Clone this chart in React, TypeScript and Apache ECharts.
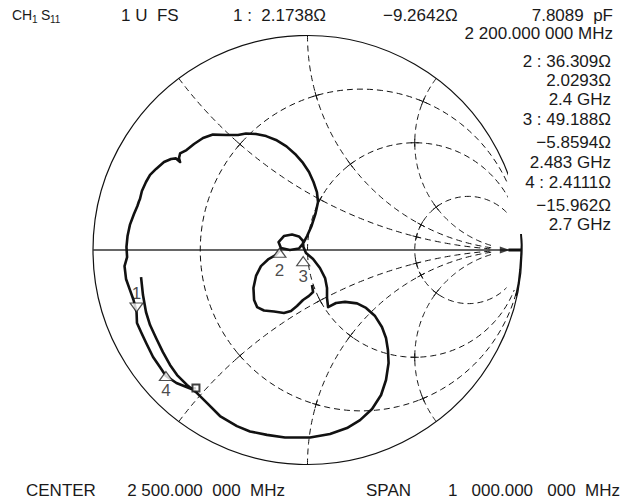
import React, { useEffect, useRef } from "react";
import * as echarts from "echarts";

// Smith chart grid values (normalized resistance / reactance)
const R_CIRCLES = [1 / 3, 1, 3];
const X_ARCS = [0.5, 1, 2, -0.5, -1, -2];

const TRACE_RE = [
  -0.776, -0.767, -0.753, -0.734, -0.706, -0.674, -0.641, -0.608, -0.562, -0.515,
  -0.469, -0.408, -0.329, -0.268, -0.189, -0.105, 0.012, 0.105, 0.184, 0.245,
  0.301, 0.343, 0.366, 0.378, 0.375, 0.366, 0.347, 0.315, 0.273, 0.231,
  0.175, 0.133, 0.096, 0.091, 0.091, 0.082, 0.058, 0.026, -0.007, -0.019,
  -0.021, -0.04, -0.072, -0.11, -0.135, -0.124, -0.082, -0.04, -0.021, -0.002,
  0.019, 0.037, 0.049, 0.044, 0.028, 0.007, -0.021, -0.058, -0.098, -0.147,
  -0.193, -0.24, -0.287, -0.324, -0.375, -0.441, -0.487, -0.529, -0.564, -0.594,
  -0.599, -0.594, -0.613, -0.636, -0.669, -0.706, -0.734, -0.753, -0.772, -0.781,
  -0.786, -0.793, -0.809, -0.828, -0.839, -0.844, -0.841, -0.853, -0.846, -0.828,
  -0.811, -0.797, -0.795, -0.774, -0.751, -0.72, -0.688, -0.66, -0.611, -0.541,
  -0.52,
];
const TRACE_IM = [
  -0.126, -0.21, -0.289, -0.35, -0.41, -0.476, -0.536, -0.583, -0.629, -0.667,
  -0.713, -0.774, -0.821, -0.846, -0.862, -0.874, -0.874, -0.858, -0.83, -0.793,
  -0.741, -0.676, -0.606, -0.527, -0.466, -0.41, -0.359, -0.308, -0.27, -0.249,
  -0.242, -0.247, -0.266, -0.224, -0.177, -0.131, -0.084, -0.042, -0.014, 0.014,
  0.042, 0.063, 0.072, 0.065, 0.037, 0.009, 0.0, 0.007, 0.03, 0.065,
  0.112, 0.168, 0.224, 0.27, 0.317, 0.364, 0.406, 0.448, 0.483, 0.513,
  0.531, 0.541, 0.543, 0.536, 0.536, 0.538, 0.522, 0.494, 0.466, 0.45,
  0.429, 0.41, 0.427, 0.424, 0.41, 0.378, 0.35, 0.317, 0.275, 0.238,
  0.226, 0.205, 0.168, 0.117, 0.065, 0.014, -0.033, -0.075, -0.135, -0.186,
  -0.233, -0.289, -0.34, -0.387, -0.436, -0.499, -0.545, -0.587, -0.62, -0.648,
  -0.643,
];
const LOOP_RE = [-0.124, -0.147, -0.184, -0.217, -0.24, -0.252, -0.249, -0.235, -0.203, -0.156, -0.11, -0.077, -0.049, -0.021, 0.007, 0.026, 0.021];
const LOOP_IM = [0.005, -0.023, -0.044, -0.075, -0.121, -0.177, -0.233, -0.266, -0.282, -0.287, -0.294, -0.284, -0.261, -0.233, -0.214, -0.196, -0.163];
const EDGE_RE = [0.995, 0.998, 0.995, 0.991, 0.984, 0.972];
const EDGE_IM = [0.079, 0.023, -0.037, -0.093, -0.154, -0.214];

// Markers
const MARKER_NAMES = ["1", "2", "3", "4"];
const MARKER_RE = [-0.797, -0.131, -0.02, -0.66];
const MARKER_IM = [-0.289, 0.008, -0.031, -0.567];
const MARKER_DOWN = [true, false, false, false];
const MARKER_LABEL_DY = [-18, 22, 20, 19];
const START_POINT = [-0.52, -0.643];
const REF_ARROW = [0.92, 0];
const REF_LINE_RE = [0.937, 1.0];

// Texts
const HEADER_CH = ["CH", "1", "S", "11"];
const HEADER_MAIN = ["1 U  FS", "1 :  2.1738Ω", "−9.2642Ω"];
const HEADER_MAIN_X = [121, 233, 383];
const HEADER_RIGHT = ["7.8089  pF", "2 200.000 000 MHz"];
const RIGHT_LINES = [
  "2 : 36.309Ω", "2.0293Ω", "2.4 GHz",
  "3 : 49.188Ω", "−5.8594Ω", "2.483 GHz",
  "4 : 2.4111Ω", "−15.962Ω", "2.7 GHz",
];
const RIGHT_Y = [61, 80, 99, 119, 142, 162, 182, 205, 224];
const FOOTER = ["CENTER", "2 500.000  000  MHz", "SPAN", "1   000.000   000  MHz"];

const FONT = "'Liberation Sans', Arial, Helvetica, sans-serif";
const INK = "#1a1a1a";

function pairs(re: number[], im: number[]) {
  return re.map((v, i) => [v, im[i]]);
}

function gridRender(params: any, api: any) {
  const c = (x: number, y: number) => api.coord([x, y]);
  const unit = api.size([1, 1])[0];
  const children: any[] = [];
  const dash = [6, 4];
  const o = c(0, 0);
  const N = 160;
  const GAP_R = 0.19;
  const GAP_X = 0.14;

  children.push({
    type: "circle",
    shape: { cx: o[0], cy: o[1], r: unit },
    style: { stroke: "#111", lineWidth: 1.2, fill: "none" },
  });
  const l = c(-1, 0);
  const rr = c(1, 0);
  children.push({
    type: "line",
    shape: { x1: l[0], y1: l[1], x2: rr[0], y2: rr[1] },
    style: { stroke: "#333", lineWidth: 1.3 },
  });

  R_CIRCLES.forEach((r) => {
    const rho = 1 / (1 + r);
    const cx = r / (1 + r);
    const th0 = 2 * Math.asin(Math.min(1, GAP_R / (2 * rho)));
    const pts: number[][] = [];
    for (let i = 0; i <= N; i++) {
      const th = th0 + ((2 * Math.PI - 2 * th0) * i) / N;
      pts.push(c(cx + rho * Math.cos(th), rho * Math.sin(th)));
    }
    children.push({
      type: "polyline",
      shape: { points: pts },
      style: { stroke: "#111", lineWidth: 1, lineDash: dash, fill: "none" },
    });
  });

  X_ARCS.forEach((x) => {
    const R = 1 / Math.abs(x);
    const cy = 1 / x;
    const px = (x * x - 1) / (x * x + 1);
    const py = (2 * x) / (x * x + 1);
    const phiP = Math.atan2(py - cy, px - 1);
    const phi1 = Math.atan2(-cy, 0);
    let diff = phi1 - phiP;
    while (diff > Math.PI) diff -= 2 * Math.PI;
    while (diff <= -Math.PI) diff += 2 * Math.PI;
    const delta = 2 * Math.asin(GAP_X / (2 * R));
    const end = phiP + diff - Math.sign(diff) * delta;
    const pts: number[][] = [];
    for (let i = 0; i <= N; i++) {
      const ph = phiP + ((end - phiP) * i) / N;
      pts.push(c(1 + R * Math.cos(ph), cy + R * Math.sin(ph)));
    }
    children.push({
      type: "polyline",
      shape: { points: pts },
      style: { stroke: "#111", lineWidth: 1, lineDash: dash, fill: "none" },
    });
  });

  // small solid crosses at grid intersections
  const half = 4 / unit;
  R_CIRCLES.forEach((r) => {
    X_ARCS.forEach((x) => {
      const den = (r + 1) * (r + 1) + x * x;
      const gx = (r * r + x * x - 1) / den;
      const gy = (2 * x) / den;
      const centers = [
        [r / (1 + r), 0],
        [1, 1 / x],
      ];
      centers.forEach((ce) => {
        const vx = gx - ce[0];
        const vy = gy - ce[1];
        const len = Math.hypot(vx, vy);
        const tx = -vy / len;
        const ty = vx / len;
        const a = c(gx - tx * half, gy - ty * half);
        const b = c(gx + tx * half, gy + ty * half);
        children.push({
          type: "line",
          shape: { x1: a[0], y1: a[1], x2: b[0], y2: b[1] },
          style: { stroke: "#111", lineWidth: 1 },
        });
      });
    });
  });

  return { type: "group", children };
}

function text(x: number, y: number, t: string, size: number, align = "left", z = 100) {
  return {
    type: "text",
    x,
    y,
    z,
    silent: true,
    style: {
      text: t,
      fontSize: size,
      fontFamily: FONT,
      fill: INK,
      align,
      verticalAlign: "middle",
    },
  };
}

export default function App() {
  const ref = useRef<HTMLDivElement>(null);

  useEffect(() => {
    if (!ref.current) return;
    const chart = echarts.init(ref.current, undefined, { renderer: "svg" });

    const triUp = "path://M6,0L12,9L0,9Z";
    const triDown = "path://M0,0L12,0L6,9Z";

    const markerData = MARKER_NAMES.map((n, i) => ({
      name: n,
      value: [MARKER_RE[i], MARKER_IM[i]],
      symbol: MARKER_DOWN[i] ? triDown : triUp,
      symbolOffset: [0, MARKER_DOWN[i] ? -4.5 : 4.5],
    }));
    const labelData = MARKER_NAMES.map((n, i) => ({
      name: n,
      value: [MARKER_RE[i], MARKER_IM[i]],
      label: { offset: [0, MARKER_LABEL_DY[i]] },
    }));

    const graphic: any[] = [
      {
        type: "rect",
        x: 508,
        y: 170,
        z: 50,
        silent: true,
        shape: { width: 112, height: 64 },
        style: { fill: "#fff" },
      },
      text(12, 15, HEADER_CH[0], 14),
      text(32, 19, HEADER_CH[1], 10),
      text(41, 15, HEADER_CH[2], 14),
      text(50, 19, HEADER_CH[3], 10),
      ...HEADER_MAIN.map((t, i) => text(HEADER_MAIN_X[i], 15, t, 17)),
      text(613, 15, HEADER_RIGHT[0], 17, "right"),
      text(613, 33, HEADER_RIGHT[1], 17, "right"),
      ...RIGHT_LINES.map((t, i) => text(611, RIGHT_Y[i], t, 17, "right")),
      text(26, 490, FOOTER[0], 17),
      text(285, 490, FOOTER[1], 17, "right"),
      text(366, 490, FOOTER[2], 17),
      text(620, 490, FOOTER[3], 17, "right"),
    ];

    chart.setOption({
      animation: false,
      backgroundColor: "#fff",
      grid: { left: 93, top: 35.5, width: 429, height: 429, containLabel: false },
      xAxis: { type: "value", min: -1, max: 1, show: false },
      yAxis: { type: "value", min: -1, max: 1, show: false },
      graphic,
      series: [
        {
          type: "custom",
          renderItem: gridRender,
          data: [[0, 0]],
          silent: true,
          clip: false,
          z: 1,
        },
        {
          type: "line",
          data: pairs(TRACE_RE, TRACE_IM),
          showSymbol: false,
          symbol: "none",
          silent: true,
          clip: false,
          lineStyle: { color: "#111", width: 2.6, join: "round" },
          z: 3,
        },
        {
          type: "line",
          data: pairs(LOOP_RE, LOOP_IM),
          showSymbol: false,
          symbol: "none",
          silent: true,
          clip: false,
          lineStyle: { color: "#111", width: 2.6, join: "round" },
          z: 3,
        },
        {
          type: "line",
          data: pairs(EDGE_RE, EDGE_IM),
          showSymbol: false,
          symbol: "none",
          silent: true,
          clip: false,
          lineStyle: { color: "#111", width: 1.8 },
          z: 3,
        },
        {
          type: "line",
          data: REF_LINE_RE.map((v) => [v, 0]),
          showSymbol: false,
          symbol: "none",
          silent: true,
          lineStyle: { color: "#111", width: 3 },
          z: 4,
        },
        {
          type: "scatter",
          data: [REF_ARROW],
          symbol: "path://M0,0L10,4L0,8Z",
          symbolSize: [10, 7],
          silent: true,
          itemStyle: { color: "#111" },
          z: 5,
        },
        {
          type: "scatter",
          data: [START_POINT],
          symbol: "rect",
          symbolSize: 7,
          silent: true,
          itemStyle: { color: "#fff", borderColor: "#111", borderWidth: 2 },
          z: 6,
        },
        {
          type: "scatter",
          data: markerData,
          symbolSize: [13, 9],
          silent: true,
          itemStyle: { color: "#fff", borderColor: "#222", borderWidth: 1.2 },
          z: 7,
        },
        {
          type: "scatter",
          data: labelData,
          symbol: "circle",
          symbolSize: 1,
          silent: true,
          itemStyle: { color: "rgba(0,0,0,0)" },
          label: {
            show: true,
            position: "inside",
            formatter: "{b}",
            fontSize: 17,
            fontFamily: FONT,
            color: INK,
          },
          z: 8,
        },
      ],
    });

    return () => chart.dispose();
  }, []);

  return (
    <div
      ref={ref}
      style={{ position: "absolute", left: 0, top: 0, width: 629, height: 504, background: "#fff" }}
    />
  );
}
